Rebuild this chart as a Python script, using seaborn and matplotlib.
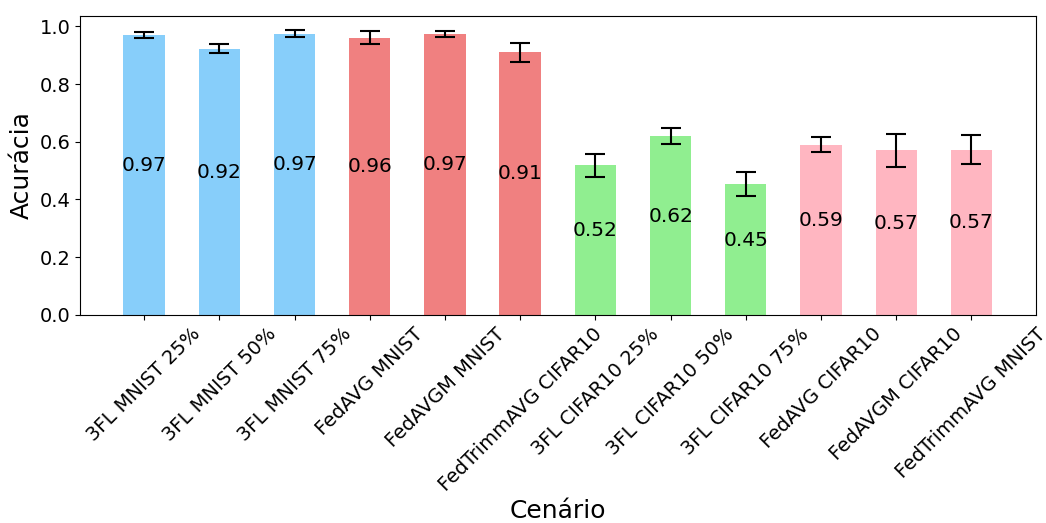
import matplotlib
matplotlib.use("Agg")
import matplotlib.pyplot as plt
import seaborn as sns
import pandas as pd

categories = ["3FL MNIST 25%", "3FL MNIST 50%", "3FL MNIST 75%", "FedAVG MNIST",
              "FedAVGM MNIST", "FedTrimmAVG CIFAR10", "3FL CIFAR10 25%",
              "3FL CIFAR10 50%", "3FL CIFAR10 75%", "FedAVG CIFAR10",
              "FedAVGM CIFAR10", "FedTrimmAVG MNIST"]
accuracy = [0.970, 0.923, 0.974, 0.961, 0.974, 0.911, 0.519, 0.619, 0.453, 0.590, 0.570, 0.573]
errors = [0.010, 0.016, 0.012, 0.023, 0.010, 0.033, 0.040, 0.028, 0.042, 0.025, 0.056, 0.050]
colors = ["#87CEFA"] * 3 + ["#F08080"] * 3 + ["#90EE90"] * 3 + ["#FFB6C1"] * 3

df = pd.DataFrame({"Cenário": categories, "Acurácia": accuracy})

fig = plt.figure(figsize=(10.46, 5.23), dpi=100)
ax = fig.add_axes([0.0765, 0.398, 0.9135, 0.571])
sns.barplot(data=df, x="Cenário", y="Acurácia", hue="Cenário", palette=colors,
            width=0.55, saturation=1, legend=False, ax=ax, errorbar=None)
ax.errorbar(range(len(categories)), accuracy, yerr=errors, fmt="none",
            ecolor="black", capsize=7, elinewidth=1.5, capthick=1.5)
for i, v in enumerate(accuracy):
    ax.text(i, v / 2, f"{v:.2f}", ha="center", va="bottom", fontsize=14.5)

ax.set_xlim(-0.5 - 0.05 * 11.55 + 0.225, 11.5 + 0.05 * 11.55 - 0.225)
ax.autoscale(axis="y")
ax.set_xlabel("Cenário", fontsize=18, labelpad=3)
ax.set_ylabel("Acurácia", fontsize=18)
ax.tick_params(axis="both", labelsize=14)
plt.setp(ax.get_xticklabels(), rotation=45, ha="center")
fig.savefig("out.png", dpi=100)
